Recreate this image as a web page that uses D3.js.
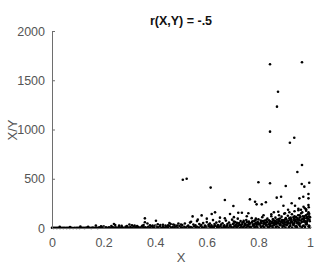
<!DOCTYPE html>
<html><head><meta charset="utf-8">
<script src="https://cdn.jsdelivr.net/npm/d3@7"></script>
<style>html,body{margin:0;padding:0;background:#fff;}svg{display:block;}</style>
</head><body>
<svg id="c" width="320" height="271"></svg>
<script>
const title = "r(X,Y) = -.5";
const xLabel = "X";
const yLabel = "X/Y";
const xTicks = [0, 0.2, 0.4, 0.6, 0.8, 1];
const yTicks = [0, 500, 1000, 1500, 2000];

// base band near zero
const baseBand = [
[0.000,2],[0.006,1],[0.012,3],[0.019,1],[0.025,2],[0.031,0],[0.038,2],[0.044,1],[0.050,3],[0.057,1],
[0.063,2],[0.069,1],[0.076,2],[0.082,0],[0.088,3],[0.095,1],[0.101,2],[0.107,1],[0.114,3],[0.120,2],
[0.126,1],[0.133,4],[0.139,2],[0.145,3],[0.152,1],[0.158,5],[0.164,2],[0.171,4],[0.177,1],[0.183,6],
[0.190,3],[0.196,2],[0.202,5],[0.209,8],[0.215,3],[0.221,6],[0.228,2],[0.234,9],[0.240,4],[0.247,7],
[0.253,3],[0.259,10],[0.266,5],[0.272,8],[0.278,2],[0.285,11],[0.291,6],[0.297,4],[0.304,9],[0.310,3],
[0.316,12],[0.323,7],[0.329,5],[0.335,10],[0.342,4],[0.348,14],[0.354,6],[0.361,8],[0.367,3],[0.373,12],
[0.380,5],[0.386,15],[0.392,7],[0.399,4],[0.405,11],[0.411,6],[0.418,16],[0.424,3],[0.430,9],[0.437,5],
[0.443,13],[0.449,7],[0.456,18],[0.462,4],[0.468,10],[0.475,6],[0.481,14],[0.487,3],[0.494,20],[0.500,8],
[0.506,5],[0.513,12],[0.519,4],[0.525,16],[0.532,7],[0.538,10],[0.544,3],[0.551,18],[0.557,6],[0.563,12],
[0.570,4],[0.576,22],[0.582,8],[0.589,5],[0.595,14],[0.601,3],[0.608,19],[0.614,7],[0.620,11],[0.627,4],
[0.633,24],[0.639,9],[0.646,6],[0.652,15],[0.658,3],[0.665,20],[0.671,8],[0.677,12],[0.684,5],[0.690,26],
[0.696,9],[0.703,4],[0.709,17],[0.715,6],[0.722,22],[0.728,3],[0.734,13],[0.741,8],[0.747,28],[0.753,5],
[0.760,16],[0.766,10],[0.772,4],[0.779,24],[0.785,7],[0.791,14],[0.798,3],[0.804,30],[0.810,9],[0.817,18],
[0.823,5],[0.829,26],[0.836,11],[0.842,4],[0.848,20],[0.855,8],[0.861,32],[0.867,6],[0.874,15],[0.880,3],
[0.886,28],[0.893,10],[0.899,18],[0.905,5],[0.912,35],[0.918,8],[0.924,22],[0.931,4],[0.937,30],[0.943,12],
[0.950,7],[0.956,38],[0.962,15],[0.969,5],[0.975,26],[0.981,9],[0.988,40],[0.994,14],[1.000,6]
];

// small bumps along the band
const bandBumps = [
[0.17,25],[0.20,18],[0.24,40],[0.245,30],[0.27,22],[0.30,35],[0.31,28],[0.33,20],[0.355,30],[0.37,45],
[0.39,25],[0.41,38],[0.42,30],[0.44,25],[0.455,50],[0.46,40],[0.475,30],[0.49,45],[0.50,35],
[0.03,12],[0.07,10],[0.11,14],[0.14,12],[0.19,16],[0.23,20],[0.26,24],[0.29,20],[0.32,26],[0.35,22],
[0.38,28],[0.40,24],[0.43,32],[0.45,28],[0.47,36],[0.485,26]
];

// dense cloud for larger X
const denseCloud = [
[0.505,30],[0.515,45],[0.528,25],[0.535,55],[0.548,35],[0.556,28],[0.562,70],[0.571,40],[0.579,30],[0.586,50],
[0.593,25],[0.600,60],[0.607,35],[0.612,45],[0.618,28],[0.624,80],[0.630,40],[0.637,55],[0.643,30],[0.649,65],
[0.655,35],[0.661,48],[0.668,28],[0.674,75],[0.680,40],[0.686,55],[0.692,32],[0.698,85],[0.704,45],[0.710,60],
[0.715,35],[0.720,95],[0.726,50],[0.731,70],[0.737,38],[0.742,58],[0.748,42],[0.753,80],[0.758,30],[0.763,65],
[0.768,48],[0.774,100],[0.779,38],[0.784,72],[0.790,52],[0.795,35],[0.800,88],[0.805,45],[0.810,62],[0.815,110],
[0.820,40],[0.825,75],[0.830,55],[0.835,95],[0.840,38],[0.845,68],[0.850,120],[0.853,48],[0.858,82],[0.862,35],
[0.866,105],[0.870,60],[0.874,45],[0.878,90],[0.882,70],[0.886,40],[0.890,115],[0.894,55],[0.898,78],[0.902,38],
[0.906,100],[0.910,65],[0.914,125],[0.918,48],[0.922,85],[0.926,60],[0.930,140],[0.934,42],[0.938,95],[0.942,70],
[0.946,110],[0.950,52],[0.954,130],[0.958,80],[0.962,45],[0.966,150],[0.970,90],[0.974,65],[0.978,120],[0.982,55],
[0.986,100],[0.990,75],[0.994,160],[0.998,85],[1.000,110],
[0.603,18],[0.617,12],[0.629,20],[0.641,15],[0.653,22],[0.667,10],[0.679,25],[0.691,14],[0.707,20],[0.719,12],
[0.733,25],[0.745,15],[0.757,20],[0.770,12],[0.782,28],[0.793,18],[0.808,22],[0.819,14],[0.832,30],[0.844,20],
[0.857,25],[0.869,15],[0.883,30],[0.896,20],[0.909,28],[0.921,18],[0.935,32],[0.947,22],[0.959,30],[0.972,20],
[0.984,35],[0.996,25],
[0.880,130],[0.900,145],[0.920,160],[0.940,170],[0.955,180],[0.965,185],[0.980,200],[0.995,210],[0.985,175],
[0.970,160],[0.990,140],[0.960,130],[0.940,120],[0.925,105]
];

// extra fill of the dense region
const denseFill = [
[0.702,40],[0.712,30],[0.724,44],[0.738,55],[0.750,38],[0.762,50],[0.775,58],[0.787,42],[0.797,64],[0.803,36],
[0.812,48],[0.818,70],[0.826,44],[0.834,60],[0.841,78],[0.847,42],[0.852,64],[0.856,90],[0.860,52],[0.864,72],
[0.868,40],[0.872,84],[0.876,58],[0.880,46],[0.884,96],[0.888,62],[0.892,80],[0.896,44],[0.900,70],[0.904,56],
[0.908,88],[0.912,50],[0.916,74],[0.920,100],[0.924,44],[0.928,80],[0.932,62],[0.936,110],[0.940,50],[0.944,86],
[0.948,66],[0.952,98],[0.956,58],[0.960,104],[0.964,76],[0.968,60],[0.972,118],[0.976,84],[0.980,70],[0.984,128],
[0.988,60],[0.992,95],[0.996,120],[0.999,68],[0.997,145],[0.989,110],[0.977,100],[0.963,112],[0.951,84],[0.939,78],
[0.927,90],[0.915,62],[0.903,86],[0.891,70],[0.879,74],[0.867,56],[0.855,62],[0.843,54],[0.831,82],[0.821,58],
[0.809,76],[0.799,50],[0.789,80],[0.777,68],[0.765,36],[0.755,62],[0.743,72],[0.729,30],[0.717,52],[0.705,66]
];

// scattered mid-level points
const midPoints = [
[0.670,284],[0.767,291],[0.787,267],[0.793,240],[0.813,240],[0.829,261],[0.871,308],[0.888,318],[0.959,301],
[0.974,318],[0.994,345],[0.994,301],[0.703,223],[0.897,226],[0.929,251],[0.942,226],[0.994,233],[0.975,215],
[0.955,195],[0.736,155],[0.632,159],[0.761,149],[0.877,165],[0.903,149],[0.580,128],[0.545,118],[0.985,190],
[0.690,142],[0.722,155],[0.619,142],[0.651,105],[0.670,98],[0.539,64],[0.360,98],[0.360,58],[0.403,74],
[0.850,140],[0.820,130],[0.860,160],[0.915,185],[0.705,110],[0.755,120],[0.790,95],[0.565,85],[0.600,95]
];

// outliers
const highPoints = [
[0.845,1662],[0.969,1682],[0.876,1384],[0.872,1232],[0.845,978],[0.939,917],[0.922,866],[0.969,640],
[0.951,569],[0.507,490],[0.522,500],[0.615,410],[0.800,465],[0.845,455],[0.906,426],[0.997,460],
[0.968,447],[0.978,420]
];

const allPoints = [].concat(baseBand, bandBumps, denseCloud, denseFill, midPoints, highPoints);

const svg = d3.select("#c");
const x = d3.scaleLinear().domain([0, 1]).range([52, 310]);
const y = d3.scaleLinear().domain([0, 2000]).range([228, 31]);
const axisColor = "#6e6e6e";
const font = "'Liberation Sans', Arial, sans-serif";

// points
svg.append("g").selectAll("circle").data(allPoints).enter().append("circle")
  .attr("cx", d => x(d[0])).attr("cy", d => y(d[1])).attr("r", 1.3).attr("fill", "#000");

// axes
const xAxis = d3.axisBottom(x).tickValues(xTicks).tickFormat(d3.format("")).tickSizeInner(-3).tickSizeOuter(0).tickPadding(8);
const yAxis = d3.axisLeft(y).tickValues(yTicks).tickFormat(d3.format("d")).tickSizeInner(-3).tickSizeOuter(0).tickPadding(7);

const gx = svg.append("g").attr("transform", "translate(0,228)").call(xAxis);
const gy = svg.append("g").attr("transform", "translate(52,0)").call(yAxis);
[gx, gy].forEach(g => {
  g.selectAll("path, line").attr("stroke", axisColor).attr("stroke-width", 1);
  g.selectAll("text").attr("fill", "#555").style("font-family", font).style("font-size", "12.5px");
});
gx.selectAll("text").attr("dy", "0.9em");

// title
svg.append("text").attr("x", 181).attr("y", 25).attr("text-anchor", "middle")
  .style("font-family", font).style("font-size", "12.5px").style("font-weight", "bold").attr("fill", "#111")
  .text(title);

// axis labels
svg.append("text").attr("x", 181).attr("y", 262).attr("text-anchor", "middle")
  .style("font-family", font).style("font-size", "13px").attr("fill", "#555").text(xLabel);
svg.append("text").attr("transform", "translate(17,130) rotate(-90)").attr("text-anchor", "middle")
  .style("font-family", font).style("font-size", "13px").attr("fill", "#555").text(yLabel);
</script>
</body></html>
